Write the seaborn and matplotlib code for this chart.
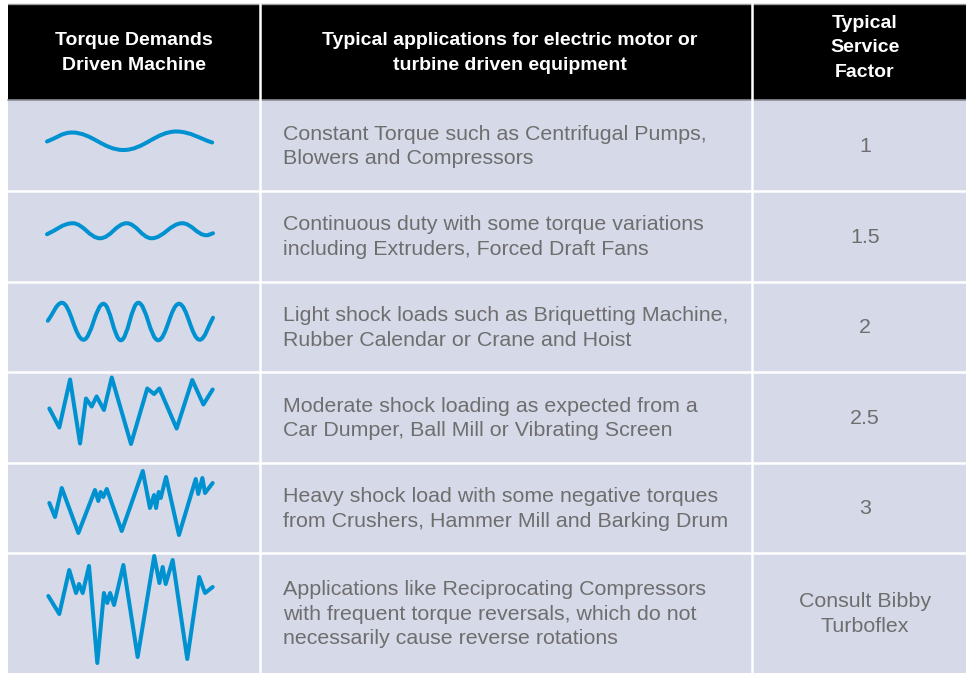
import numpy as np
import pandas as pd
import matplotlib
matplotlib.use("Agg")
import matplotlib.pyplot as plt
import seaborn as sns
from matplotlib.path import Path
from matplotlib.patches import PathPatch, Rectangle

# table text
headers = ["Torque Demands\nDriven Machine",
           "Typical applications for electric motor or\nturbine driven equipment",
           "Typical\nService\nFactor"]
applications = [
    "Constant Torque such as Centrifugal Pumps,\nBlowers and Compressors",
    "Continuous duty with some torque variations\nincluding Extruders, Forced Draft Fans",
    "Light shock loads such as Briquetting Machine,\nRubber Calendar or Crane and Hoist",
    "Moderate shock loading as expected from a\nCar Dumper, Ball Mill or Vibrating Screen",
    "Heavy shock load with some negative torques\nfrom Crushers, Hammer Mill and Barking Drum",
    "Applications like Reciprocating Compressors\nwith frequent torque reversals, which do not\nnecessarily cause reverse rotations",
]
service_factor = ["1", "1.5", "2", "2.5", "3", "Consult Bibby\nTurboflex"]

# torque waveforms: time 0-100, torque around zero
# smooth ones (only the extremes are listed)
w1_t = [0, 15, 46, 78, 99.5]
w1_v = [0.4, 1.3, -0.45, 1.4, 0.3]
w2_t = [0, 15.5, 32, 48, 63, 81.5, 96, 100]
w2_v = [0.2, 1.3, -0.2, 1.3, -0.2, 1.3, 0.1, 0.3]
w3_t = [0.5, 9, 22, 34, 44.5, 55, 67, 79.5, 92, 100]
w3_v = [0.6, 2.4, -1.3, 2.3, -1.35, 2.4, -1.35, 2.3, -1.3, 0.9]
# jagged ones
w4_t = [1.4, 7.4, 13.9, 19.9, 23.5, 26.9, 29.9, 34.3, 39, 50.6, 60.4, 64.5,
        67.7, 78.1, 87.5, 94.2, 99.8]
w4_v = [0.9, -1.0, 3.8, -2.6, 1.9, 1.1, 2.1, 0.75, 4.0, -2.65, 2.9, 2.35,
        2.9, -1.1, 3.75, 1.3, 2.8]
w5_t = [1.4, 4.8, 8.9, 18.9, 28.9, 30.9, 32.3, 33.9, 36, 45, 57.7, 62, 64.5,
        65.7, 67.3, 68.5, 71.7, 79.5, 89.6, 91.1, 93.6, 95.2, 99.8]
w5_v = [0.5, -0.9, 2.0, -2.5, 1.8, 0.7, 1.6, 1.1, 1.9, -2.3, 3.7, 0.0, 1.3,
        0.0, 1.6, 1.0, 3.1, -2.7, 2.9, 1.4, 3.0, 1.5, 2.5]
w6_t = [0.8, 7.4, 13.4, 17.5, 19.3, 21.5, 25.3, 30.3, 34.3, 36.3, 38, 40.4,
        46, 54.6, 64.6, 67.7, 69.7, 71.5, 75.7, 84.5, 91.7, 95.2, 99.8]
w6_v = [1.7, -0.1, 4.3, 2.0, 2.9, 2.0, 4.7, -5.0, 2.0, 1.0, 2.0, 0.8,
        4.8, -4.4, 5.7, 3.0, 4.6, 2.9, 5.3, -4.6, 3.6, 2.0, 2.6]

smooth_waves = [(w1_t, w1_v), (w2_t, w2_v), (w3_t, w3_v)]
jagged_waves = [(w4_t, w4_v), (w5_t, w5_v), (w6_t, w6_v)]

sns.set_style("white")
plt.rcParams["font.family"] = ["Liberation Sans", "DejaVu Sans"]

cell_col = "#d6d9e8"
text_col = "#6e6e6e"
wave_col = "#0092d0"

fig = plt.figure(figsize=(9.66, 6.73), dpi=100)
ax = fig.add_axes([0, 0, 1, 1])
ax.set_xlim(0, 966)
ax.set_ylim(673, 0)
ax.axis("off")

# layout (pixels)
left, c1, c2, right = 8, 259.5, 751.5, 980
top, head_bot = 4, 100
row_edges = [100, 191, 281.5, 372, 463, 553, 673]

ax.add_patch(Rectangle((left, head_bot), right - left, 673 - head_bot, color=cell_col, lw=0))
ax.add_patch(Rectangle((left, top), right - left, head_bot - top, color="black", lw=0))
ax.plot([left, right], [top, top], color="#999999", lw=1)
ax.plot([left, right], [head_bot, head_bot], color="#8c8c95", lw=1.2)
for y in row_edges[1:-1]:
    ax.plot([left, right], [y, y], color="white", lw=1.8)
for x in [c1, c2]:
    ax.plot([x, x], [top, 673], color="white", lw=1.8)

# header
hfont = ["Liberation Sans Narrow", "Liberation Sans", "DejaVu Sans"]
hkw = dict(color="white", ha="center", va="center", fontsize=14,
           fontweight="bold", family=hfont, linespacing=1.55)
ax.text(133.5, 53, headers[0], **hkw)
ax.text(510, 53, headers[1], **hkw)
ax.text(865, 48, headers[2], **hkw)

centers = [(row_edges[i] + row_edges[i + 1]) / 2 for i in range(6)]
for i, yc in enumerate(centers):
    ax.text(283, yc + 1, applications[i], color=text_col, ha="left", va="center",
            fontsize=15.4, linespacing=1.38)
    ax.text(865, yc + 1, service_factor[i], color=text_col, ha="center", va="center",
            fontsize=15.4, linespacing=1.38)

# wave placement in the first column
x0, xscale, yscale = 47, 1.66, 10


def to_px(t, v, yc):
    return x0 + np.asarray(t) * xscale, yc - np.asarray(v) * yscale


# smooth waves drawn as cubic bezier through the extremes
for (t, v), yc in zip(smooth_waves, centers[:3]):
    xs, ys = to_px(t, v, yc)
    verts = [(xs[0], ys[0])]
    codes = [Path.MOVETO]
    n = len(xs)
    for k in range(n - 1):
        dx = xs[k + 1] - xs[k]
        if k == 0:
            p1 = (xs[0] + dx / 3, ys[0] + (ys[1] - ys[0]) / 3)
        else:
            p1 = (xs[k] + dx / 2.6, ys[k])
        if k == n - 2:
            p2 = (xs[k + 1] - dx / 3, ys[k + 1] - (ys[k + 1] - ys[k]) / 3)
        else:
            p2 = (xs[k + 1] - dx / 2.6, ys[k + 1])
        verts += [p1, p2, (xs[k + 1], ys[k + 1])]
        codes += [Path.CURVE4] * 3
    ax.add_patch(PathPatch(Path(verts, codes), fill=False, edgecolor=wave_col,
                           lw=2.9, capstyle="round", joinstyle="round"))

for (t, v), yc in zip(jagged_waves, centers[3:]):
    xs, ys = to_px(t, v, yc)
    df = pd.DataFrame({"x": xs, "y": ys})
    sns.lineplot(data=df, x="x", y="y", sort=False, estimator=None, ax=ax,
                 color=wave_col, lw=2.9, solid_joinstyle="round", solid_capstyle="round")

ax.set_xlim(0, 966)
ax.set_ylim(673, 0)
ax.axis("off")
fig.savefig("out.png", dpi=100)
